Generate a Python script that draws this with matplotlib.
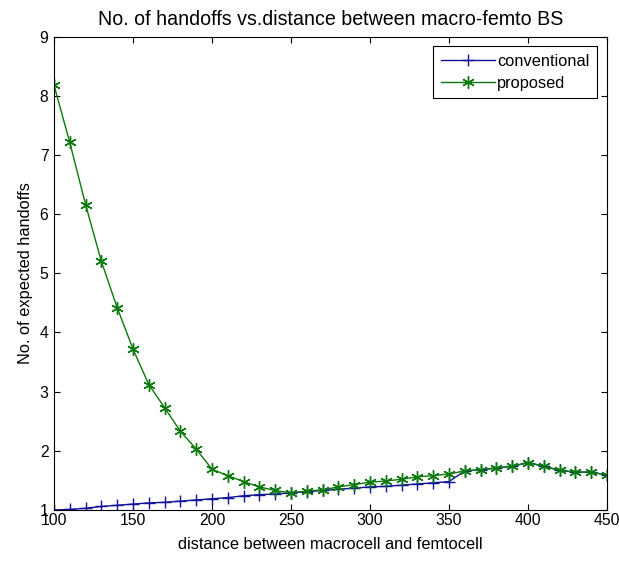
import matplotlib

matplotlib.use("Agg")
import matplotlib.pyplot as plt

# distance between macrocell and femtocell
distance = list(range(100, 451, 10))

conventional = [
    1.00, 1.01, 1.03, 1.06, 1.08, 1.10, 1.12, 1.13, 1.15, 1.17,
    1.19, 1.21, 1.24, 1.26, 1.27, 1.29, 1.31, 1.33, 1.35, 1.37,
    1.39, 1.40, 1.42, 1.44, 1.46, 1.48, 1.66, 1.68, 1.71, 1.74,
    1.80, 1.74, 1.67, 1.64, 1.64, 1.59,
]
proposed = [
    8.18, 7.21, 6.16, 5.20, 4.42, 3.72, 3.12, 2.73, 2.33, 2.03,
    1.69, 1.58, 1.48, 1.39, 1.33, 1.29, 1.32, 1.34, 1.39, 1.43,
    1.47, 1.49, 1.52, 1.56, 1.58, 1.61, 1.66, 1.68, 1.71, 1.74,
    1.80, 1.74, 1.67, 1.64, 1.64, 1.59,
]

xticks = [100, 150, 200, 250, 300, 350, 400, 450]
yticks = [1, 2, 3, 4, 5, 6, 7, 8, 9]

plt.rcParams["font.family"] = ["Liberation Sans", "DejaVu Sans"]
plt.rcParams["font.size"] = 11.8

fig = plt.figure(figsize=(6.19, 5.62), dpi=100)
ax = fig.add_axes([0.0872, 0.0925, 0.8934, 0.8425])

ax.plot(distance, conventional, color="#10109a", marker="+", markersize=9,
        markeredgewidth=1.0, linewidth=1.0, label="conventional")
ax.plot(distance, proposed, color="#0a780a", marker=(6, 2, 0), markersize=9,
        markeredgewidth=1.0, linewidth=1.0, label="proposed")

ax.set_xlim(100, 450)
ax.set_ylim(1, 9)
ax.set_xticks(xticks)
ax.set_yticks(yticks)
ax.tick_params(direction="in", top=True, right=True, length=4.5, width=0.8,
               labelsize=11.3)
ax.tick_params(axis="x", pad=2.5)
ax.tick_params(axis="y", pad=4)
for s in ax.spines.values():
    s.set_linewidth(0.8)

ax.set_title("No. of handoffs vs.distance between macro-femto BS", pad=8)
ax.set_xlabel("distance between macrocell and femtocell", labelpad=6)
ax.set_ylabel("No. of expected handoffs", labelpad=5)

leg = ax.legend(loc="upper right", fancybox=False, edgecolor="black",
                framealpha=1, handlelength=3.3, handletextpad=0.15,
                borderaxespad=0.6, labelspacing=0.45, borderpad=0.45)
leg.get_frame().set_linewidth(0.8)

fig.savefig("out.png", dpi=100)
